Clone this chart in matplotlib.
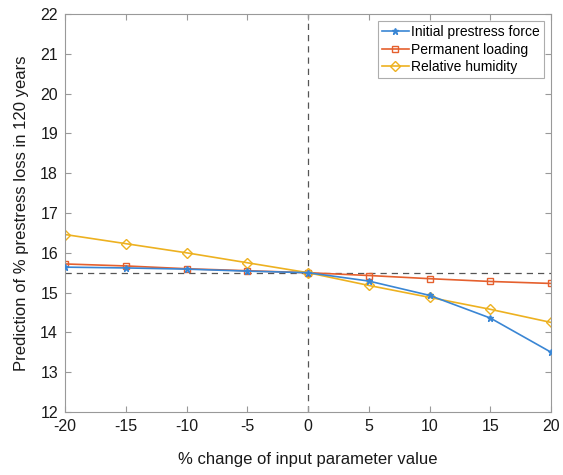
import matplotlib
matplotlib.use("Agg")
import matplotlib.pyplot as plt

x = [-20, -15, -10, -5, 0, 5, 10, 15, 20]
initial_prestress = [15.64, 15.62, 15.59, 15.54, 15.5, 15.29, 14.93, 14.36, 13.5]
permanent_loading = [15.72, 15.67, 15.6, 15.55, 15.5, 15.43, 15.35, 15.28, 15.23]
relative_humidity = [16.46, 16.23, 16.0, 15.75, 15.5, 15.18, 14.88, 14.58, 14.25]
xticks = [-20, -15, -10, -5, 0, 5, 10, 15, 20]
yticks = list(range(12, 23))

plt.rcParams['font.family'] = ['Liberation Sans', 'DejaVu Sans']
plt.rcParams['axes.unicode_minus'] = False
fig = plt.figure(figsize=(5.63, 4.75), dpi=100)
ax = fig.add_axes([0.1155, 0.1326, 0.8635, 0.8379])

ax.axvline(0, color='#555555', ls=(0, (5, 4)), lw=0.9, zorder=1)
ax.axhline(15.5, color='#555555', ls=(0, (5, 4)), lw=0.9, zorder=1)

ax.plot(x, initial_prestress, color='#3A86D4', marker='*', ms=5, lw=1.2, label='Initial prestress force', zorder=3)
ax.plot(x, permanent_loading, color='#E5602E', marker='s', ms=5, mfc='none', lw=1.2, label='Permanent loading', zorder=2)
ax.plot(x, relative_humidity, color='#EDB120', marker='D', ms=5.5, mfc='none', lw=1.2, label='Relative humidity', zorder=2)

ax.set_xlim(-20, 20)
ax.set_ylim(12, 22)
ax.set_xticks(xticks)
ax.set_yticks(yticks)
ax.set_xticklabels([str(v) for v in xticks])
ax.set_yticklabels([str(v) for v in yticks])
ax.tick_params(direction='in', top=True, right=True, labelsize=11.5, labelcolor='#1a1a1a',
               color='#999999', length=4, pad=5)
for s in ax.spines.values():
    s.set_color('#999999')
    s.set_linewidth(0.8)
ax.set_xlabel('% change of input parameter value', fontsize=12, labelpad=13, color='#1a1a1a')
ax.set_ylabel('Prediction of % prestress loss in 120 years', fontsize=12, labelpad=8, color='#1a1a1a')

leg = ax.legend(loc='upper right', fontsize=10, fancybox=False, edgecolor='#999999',
                handlelength=1.9, handletextpad=0.2, borderpad=0.3, labelspacing=0.25,
                borderaxespad=0.5)
leg.get_frame().set_linewidth(0.8)

fig.savefig('out.png', dpi=100)
